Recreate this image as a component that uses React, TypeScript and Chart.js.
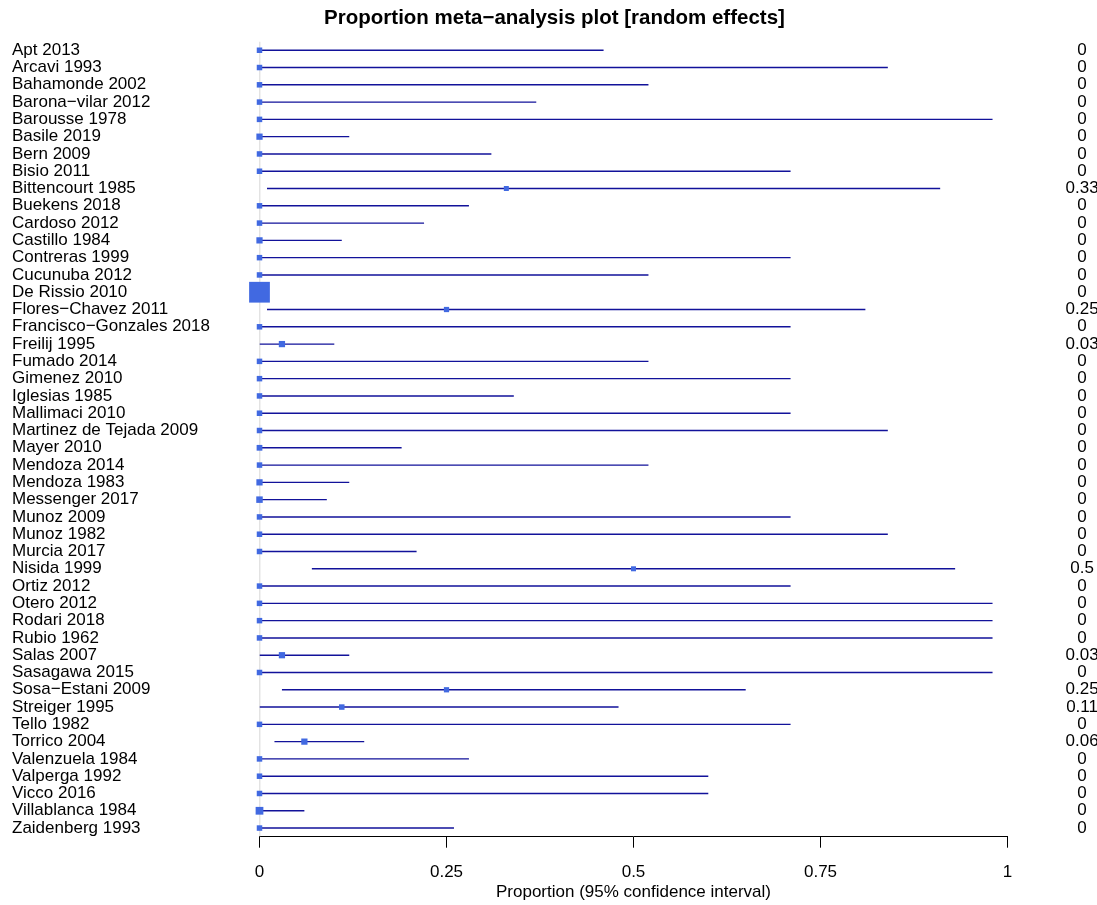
import { useEffect, useRef } from 'react';
import { Chart, registerables } from 'chart.js';

Chart.register(...registerables);

const FONT = '"Liberation Sans", Arial, Helvetica, sans-serif';

const studies = [
  'Apt 2013', 'Arcavi 1993', 'Bahamonde 2002', 'Barona\u2212vilar 2012', 'Barousse 1978',
  'Basile 2019', 'Bern 2009', 'Bisio 2011', 'Bittencourt 1985', 'Buekens 2018',
  'Cardoso 2012', 'Castillo 1984', 'Contreras 1999', 'Cucunuba 2012', 'De Rissio 2010',
  'Flores\u2212Chavez 2011', 'Francisco\u2212Gonzales 2018', 'Freilij 1995', 'Fumado 2014', 'Gimenez 2010',
  'Iglesias 1985', 'Mallimaci 2010', 'Martinez de Tejada 2009', 'Mayer 2010', 'Mendoza 2014',
  'Mendoza 1983', 'Messenger 2017', 'Munoz 2009', 'Munoz 1982', 'Murcia 2017',
  'Nisida 1999', 'Ortiz 2012', 'Otero 2012', 'Rodari 2018', 'Rubio 1962',
  'Salas 2007', 'Sasagawa 2015', 'Sosa\u2212Estani 2009', 'Streiger 1995', 'Tello 1982',
  'Torrico 2004', 'Valenzuela 1984', 'Valperga 1992', 'Vicco 2016', 'Villablanca 1984',
  'Zaidenberg 1993',
];

const estimates = [
  0, 0, 0, 0, 0,
  0, 0, 0, 0.33, 0,
  0, 0, 0, 0, 0,
  0.25, 0, 0.03, 0, 0,
  0, 0, 0, 0, 0,
  0, 0, 0, 0, 0,
  0.5, 0, 0, 0, 0,
  0.03, 0, 0.25, 0.11, 0,
  0.06, 0, 0, 0, 0,
  0,
];

const lowerCI = [
  0, 0, 0, 0, 0,
  0, 0, 0, 0.01, 0,
  0, 0, 0, 0, 0,
  0.01, 0, 0, 0, 0,
  0, 0, 0, 0, 0,
  0, 0, 0, 0, 0,
  0.07, 0, 0, 0, 0,
  0, 0, 0.03, 0, 0,
  0.02, 0, 0, 0, 0,
  0,
];

const upperCI = [
  0.46, 0.84, 0.52, 0.37, 0.98,
  0.12, 0.31, 0.71, 0.91, 0.28,
  0.22, 0.11, 0.71, 0.52, 0.01,
  0.81, 0.71, 0.10, 0.52, 0.71,
  0.34, 0.71, 0.84, 0.19, 0.52,
  0.12, 0.09, 0.71, 0.84, 0.21,
  0.93, 0.71, 0.98, 0.98, 0.98,
  0.12, 0.98, 0.65, 0.48, 0.71,
  0.14, 0.28, 0.60, 0.60, 0.06,
  0.26,
];

// relative study weights (square size)
const weights = [
  2.2, 2.2, 2.2, 2.2, 2.2,
  2.5, 2.2, 2.2, 2.0, 2.2,
  2.2, 2.5, 2.2, 2.2, 8.3,
  2.1, 2.2, 2.5, 2.2, 2.2,
  2.2, 2.2, 2.2, 2.3, 2.2,
  2.5, 2.6, 2.2, 2.2, 2.2,
  2.0, 2.2, 2.2, 2.2, 2.2,
  2.5, 2.2, 2.1, 2.2, 2.2,
  2.5, 2.2, 2.2, 2.2, 3.1,
  2.2,
];

const xTicks = [0, 0.25, 0.5, 0.75, 1];
const xTickLabels = ['0', '0.25', '0.5', '0.75', '1'];

const TITLE = 'Proportion meta\u2212analysis plot [random effects]';
const X_TITLE = 'Proportion (95% confidence interval)';

const SQUARE_PX = 2.5;

export default function App() {
  const ref = useRef<HTMLCanvasElement>(null);

  useEffect(() => {
    const canvas = ref.current;
    if (!canvas) return;
    const n = studies.length;
    const yMin = -0.5;
    const yMax = n - 0.5;

    const ciData: { x: number; y: number }[] = [];
    studies.forEach((_, i) => {
      ciData.push({ x: lowerCI[i], y: i });
      ciData.push({ x: upperCI[i], y: i });
      ciData.push({ x: NaN, y: NaN });
    });

    const chart = new Chart(canvas, {
      type: 'scatter',
      data: {
        datasets: [
          {
            label: 'estimates',
            data: estimates.map((e, i) => ({ x: e, y: i })),
            pointStyle: 'rect',
            pointRadius: (ctx: any) => (weights[ctx.dataIndex] * SQUARE_PX) / Math.SQRT2,
            pointHoverRadius: (ctx: any) => (weights[ctx.dataIndex] * SQUARE_PX) / Math.SQRT2,
            backgroundColor: '#4169E1',
            borderColor: '#4169E1',
            borderWidth: 0,
            clip: false as any,
            order: 1,
          } as any,
          {
            label: 'ci',
            data: ciData,
            showLine: true,
            spanGaps: false,
            borderColor: '#12129a',
            borderWidth: 1.4,
            pointRadius: 0,
            pointHoverRadius: 0,
            order: 2,
          } as any,
          {
            label: 'ref',
            data: [{ x: 0, y: yMin }, { x: 0, y: yMax }],
            showLine: true,
            borderColor: '#c8c8c8',
            borderWidth: 1.5,
            pointRadius: 0,
            pointHoverRadius: 0,
            order: 3,
          } as any,
        ],
      },
      options: {
        animation: false,
        responsive: false,
        events: [],
        layout: { padding: { left: 12, right: 0, top: 0, bottom: 0 } },
        plugins: {
          legend: { display: false },
          tooltip: { enabled: false },
          title: {
            display: true,
            text: TITLE,
            color: '#000',
            font: { family: FONT, size: 20.5, weight: 'bold' },
            padding: { top: 6, bottom: 11 },
          },
        },
        scales: {
          x: {
            type: 'linear',
            min: 0,
            max: 1,
            afterBuildTicks: (scale: any) => {
              scale.ticks = xTicks.map((v) => ({ value: v }));
            },
            afterFit: (scale: any) => {
              scale.height = 68.3;
              scale.paddingLeft = 0;
              scale.paddingRight = 0;
            },
            ticks: {
              autoSkip: false,
              maxRotation: 0,
              color: '#000',
              font: { family: FONT, size: 17 },
              padding: 14,
              callback: (v: any) => xTickLabels[xTicks.indexOf(Number(v))],
            },
            grid: {
              display: true,
              drawOnChartArea: false,
              drawTicks: true,
              tickLength: 11,
              color: '#000',
              lineWidth: 1,
            },
            border: { display: true, color: '#000', width: 1 },
            title: {
              display: true,
              text: X_TITLE,
              color: '#000',
              font: { family: FONT, size: 17 },
              padding: { top: 0, bottom: 2 },
            },
          },
          y: {
            type: 'linear',
            position: 'left',
            reverse: true,
            min: yMin,
            max: yMax,
            afterBuildTicks: (scale: any) => {
              scale.ticks = studies.map((_, i) => ({ value: i }));
            },
            afterFit: (scale: any) => {
              scale.width = 247.5;
              scale.paddingTop = 0;
              scale.paddingBottom = 0;
            },
            ticks: {
              autoSkip: false,
              crossAlign: 'far',
              padding: 0,
              color: '#000',
              font: { family: FONT, size: 17 },
              callback: (v: any) => studies[Number(v)],
            },
            grid: { display: false, drawTicks: false },
            border: { display: false },
          },
          y2: {
            type: 'linear',
            position: 'right',
            reverse: true,
            min: yMin,
            max: yMax,
            afterBuildTicks: (scale: any) => {
              scale.ticks = studies.map((_, i) => ({ value: i }));
            },
            afterFit: (scale: any) => {
              scale.width = 89.5;
              scale.paddingTop = 0;
              scale.paddingBottom = 0;
            },
            ticks: {
              autoSkip: false,
              crossAlign: 'center',
              padding: 58,
              color: '#000',
              font: { family: FONT, size: 17 },
              callback: (v: any) => String(estimates[Number(v)]),
            },
            grid: { display: false, drawTicks: false },
            border: { display: false },
          },
        },
      } as any,
    });

    return () => chart.destroy();
  }, []);

  return (
    <div style={{ position: 'absolute', left: 0, top: 0, width: 1097, height: 905, background: '#fff' }}>
      <canvas ref={ref} width={1097} height={905} style={{ width: 1097, height: 905, display: 'block' }} />
    </div>
  );
}
